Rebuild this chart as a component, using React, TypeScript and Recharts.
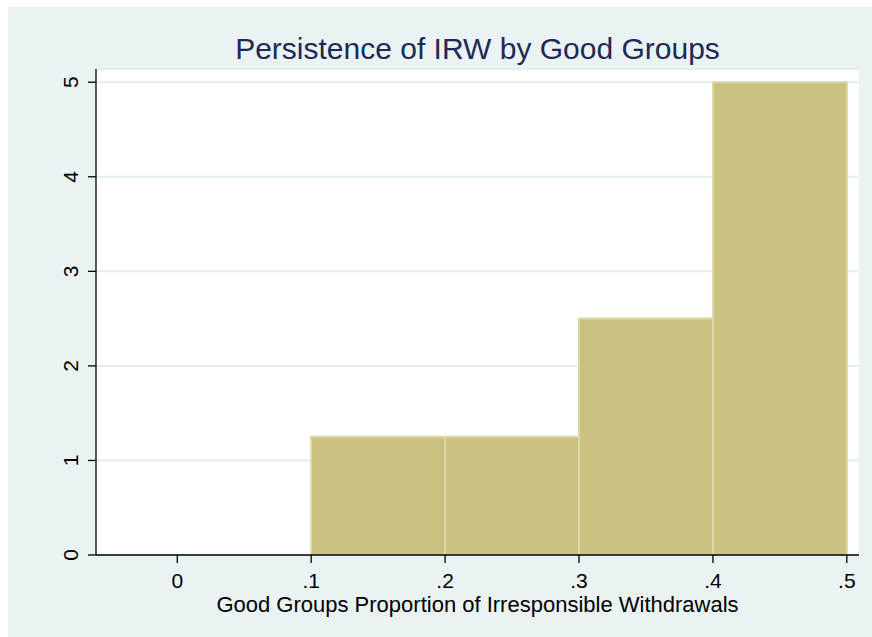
import { ComposedChart, Bar, XAxis, YAxis, CartesianGrid, Label } from "recharts";

// Histogram bins (midpoint of each 0.1-wide bin) and their densities
const binMids = [0.15, 0.25, 0.35, 0.45];
const densities = [1.25, 1.25, 2.5, 5];

const xTicks = [0, 0.1, 0.2, 0.3, 0.4, 0.5];
const xTickLabels = ["0", ".1", ".2", ".3", ".4", ".5"];
const yTicks = [0, 1, 2, 3, 4, 5];
const yTickLabels = ["0", "1", "2", "3", "4", "5"];

const title = "Persistence of IRW by Good Groups";
const xTitle = "Good Groups Proportion of Irresponsible Withdrawals";

const data = binMids.map((x, i) => ({ x, density: densities[i] }));

const FONT = "'Liberation Sans', Arial, sans-serif";

// Stata draws the y labels turned on their side
function YTick(props: any) {
  const { x, y, index } = props;
  return (
    <text
      x={x}
      y={y}
      transform={`rotate(-90, ${x}, ${y})`}
      textAnchor="middle"
      fill="#000"
      fontSize={21}
      fontFamily={FONT}
    >
      {yTickLabels[index]}
    </text>
  );
}

export default function App() {
  return (
    <div
      style={{
        position: "absolute",
        left: 8,
        top: 7,
        width: 864,
        height: 630,
        background: "#eaf2f3",
      }}
    >
      <div
        style={{
          position: "absolute",
          left: 88,
          top: 27,
          width: 763,
          textAlign: "center",
          fontFamily: FONT,
          fontSize: 30,
          lineHeight: "30px",
          color: "#1c2a55",
        }}
      >
        {title}
      </div>
      <ComposedChart
        width={864}
        height={630}
        data={data}
        margin={{ top: 62, right: 13, bottom: 0, left: 0 }}
        barCategoryGap={0}
        barGap={0}
      >
        <CartesianGrid
          vertical={false}
          fill="#ffffff"
          stroke="#e4edf0"
          strokeWidth={2}
        />
        <XAxis
          dataKey="x"
          type="number"
          domain={[-0.0607, 0.5091]}
          allowDataOverflow
          ticks={xTicks}
          tickFormatter={(_v: number, i: number) => xTickLabels[i]}
          height={82}
          tickSize={8}
          tickMargin={10}
          axisLine={{ stroke: "#000", strokeWidth: 1.3 }}
          tickLine={{ stroke: "#000", strokeWidth: 1.3 }}
          tick={{ fill: "#000", fontSize: 21, fontFamily: FONT }}
          interval={0}
        >
          <Label
            value={xTitle}
            position="insideBottom"
            offset={25}
            fill="#000"
            fontSize={22}
            fontFamily={FONT}
          />
        </XAxis>
        <YAxis
          type="number"
          domain={[0, 5.14]}
          allowDataOverflow
          ticks={yTicks}
          width={88}
          tickSize={8}
          tickMargin={10}
          axisLine={{ stroke: "#000", strokeWidth: 1.3 }}
          tickLine={{ stroke: "#000", strokeWidth: 1.3 }}
          tick={<YTick />}
          interval={0}
        />
        <Bar
          dataKey="density"
          fill="#cac280"
          stroke="#ddd7a4"
          strokeWidth={2}
          isAnimationActive={false}
        />
      </ComposedChart>
    </div>
  );
}
